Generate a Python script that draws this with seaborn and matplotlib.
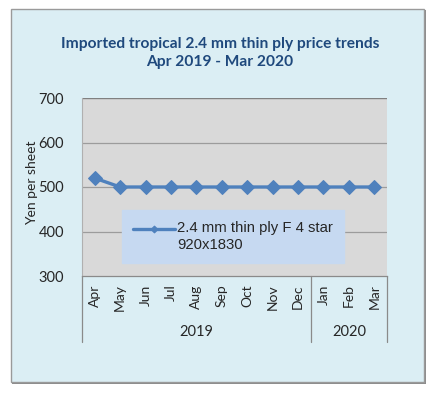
import numpy as np
import pandas as pd
import matplotlib
matplotlib.use('Agg')
import matplotlib.pyplot as plt
from matplotlib.patches import Rectangle
from matplotlib.lines import Line2D
from matplotlib.legend_handler import HandlerLine2D
from matplotlib.transforms import blended_transform_factory
import seaborn as sns

# dati
mesi = ['Apr', 'May', 'Jun', 'Jul', 'Aug', 'Sep', 'Oct', 'Nov', 'Dec', 'Jan', 'Feb', 'Mar']
anni = ['2019', '2020']
mesi_per_anno = [9, 3]
prezzi = [520, 500, 500, 500, 500, 500, 500, 500, 500, 500, 500, 500]
serie = '2.4 mm thin ply F 4 star\n920x1830'
titolo = 'Imported tropical 2.4 mm thin ply price trends\nApr 2019 - Mar 2020'

df = pd.DataFrame({'pos': np.arange(len(mesi)), 'mese': mesi, 'prezzo': prezzi})


class HandlerPrimaRiga(HandlerLine2D):
    # sposta il segno della legenda all'altezza della prima riga del testo
    def create_artists(self, legend, orig_handle, xdescent, ydescent, width, height, fontsize, trans):
        arts = super().create_artists(legend, orig_handle, xdescent, ydescent, width, height,
                                      fontsize, trans)
        for a in arts:
            a.set_ydata(np.asarray(a.get_ydata()) + 0.55 * fontsize)
        return arts


sns.set_style('white')
plt.rcParams['font.family'] = ['Lato', 'DejaVu Sans']

W, H = 440, 395
fig = plt.figure(figsize=(W / 100, H / 100), dpi=100)
fig.patch.set_facecolor('white')

# riquadro esterno con ombra
fig.patches.append(Rectangle((12 / W, 1 - 384 / H), 414 / W, 374 / H, transform=fig.transFigure,
                             facecolor='#8c8c8c', edgecolor='none', zorder=-3))
fig.patches.append(Rectangle((11 / W, 1 - 382 / H), 413 / W, 373 / H, transform=fig.transFigure,
                             facecolor='#DBEEF4', edgecolor='#9a9a9a', linewidth=1.0, zorder=-2))

ax = fig.add_axes([82 / W, 1 - 276 / H, 305 / W, 178 / H])
ax.set_facecolor('#D9D9D9')

sns.lineplot(data=df, x='pos', y='prezzo', ax=ax, color='#4F81BD', linewidth=2.4,
             marker='D', markersize=7, markeredgecolor='#4F81BD', label=serie, zorder=3)

ax.set_xlim(-0.5, len(mesi) - 0.5)
ax.set_ylim(300, 700)
ax.set_yticks([300, 400, 500, 600, 700])
for v in [400, 500, 600]:
    ax.axhline(v, color='#9c9c9c', linewidth=0.9, zorder=1)
ax.axhline(700, color='#808080', linewidth=1.0, zorder=1)

for s in ['top', 'right']:
    ax.spines[s].set_visible(False)
ax.spines['left'].set_color('#b0b0b0')
ax.spines['bottom'].set_color('#8a8a8a')
ax.spines['left'].set_linewidth(0.8)
ax.spines['bottom'].set_linewidth(0.9)

ax.set_xticks(df['pos'])
ax.set_xticklabels(mesi, rotation=90, fontsize=10, color='#262626')
ax.tick_params(axis='x', length=0, pad=6)
ax.tick_params(axis='y', length=0, pad=13, labelsize=10.5, labelcolor='#262626')
ax.set_xlabel('')
ax.set_ylabel('')

# separatori degli anni e etichette
tr = blended_transform_factory(ax.transData, ax.transAxes)
bordi = np.concatenate([[0], np.cumsum(mesi_per_anno)]) - 0.5
for b in bordi:
    ax.plot([b, b], [0, -0.37], transform=tr, color='#8a8a8a', linewidth=0.9, clip_on=False)
for i, anno in enumerate(anni):
    ax.text((bordi[i] + bordi[i + 1]) / 2, -0.315, anno, transform=tr, ha='center', va='center',
            fontsize=10.5, color='#262626')

fig.text(32 / W, 1 - 183 / H, 'Yen per sheet', rotation=90, ha='center', va='center',
         fontsize=10, color='#262626')
fig.text(220 / W, 1 - 53 / H, titolo, ha='center', va='center', fontsize=11.2,
         fontweight='bold', color='#1F497D', linespacing=1.35)

leg = ax.legend(loc='center', bbox_to_anchor=((233 - 82) / 305, (276 - 236.5) / 178), frameon=True,
                fancybox=False, borderpad=0.75, handlelength=2.8, handletextpad=0.15,
                prop={'family': 'Liberation Sans', 'size': 10.7}, markerscale=0.5,
                handler_map={Line2D: HandlerPrimaRiga()})
leg.get_frame().set_facecolor('#C6D9F1')
leg.get_frame().set_edgecolor('#C6D9F1')
leg.get_frame().set_alpha(1)
for t in leg.get_texts():
    t.set_color('#262626')

fig.savefig('out.png', dpi=100, facecolor='white')
